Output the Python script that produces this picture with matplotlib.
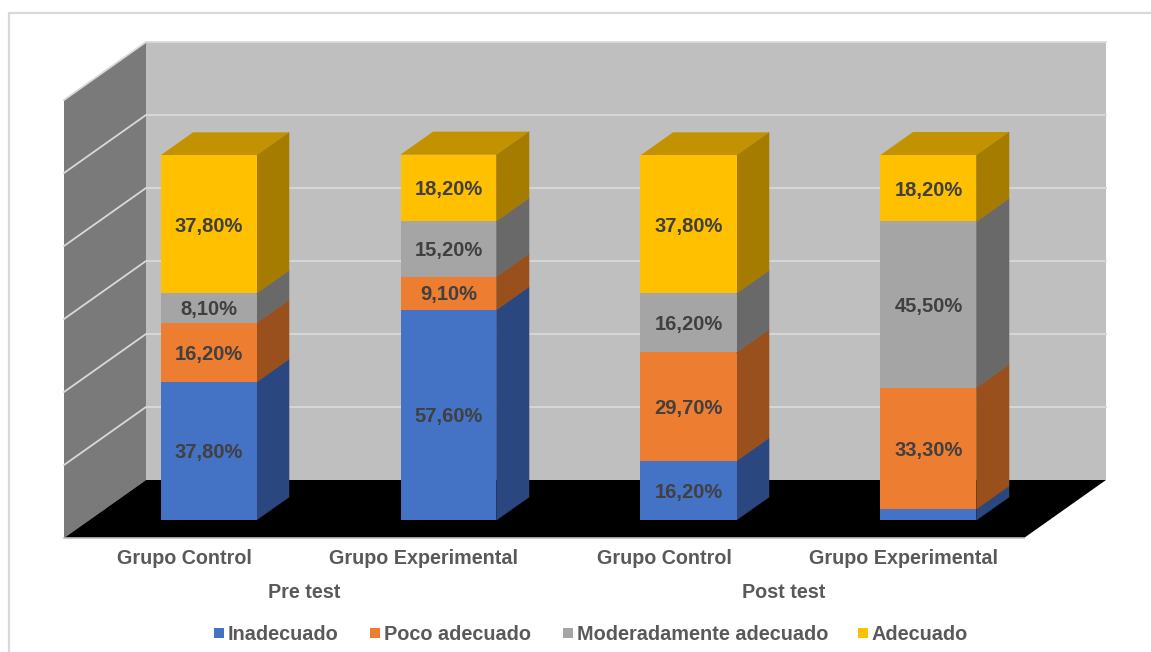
import matplotlib
matplotlib.use("Agg")
import matplotlib.pyplot as plt
from matplotlib.patches import Polygon, Rectangle

groups = ["Grupo Control", "Grupo Experimental", "Grupo Control", "Grupo Experimental"]
phases = ["Pre test", "Post test"]
series = ["Inadecuado", "Poco adecuado", "Moderadamente adecuado", "Adecuado"]
inadecuado = [37.8, 57.6, 16.2, 3.0]
poco = [16.2, 9.1, 29.7, 33.3]
moderado = [8.1, 15.2, 16.2, 45.5]
adecuado = [37.8, 18.2, 37.8, 18.2]
labels_in = ["37,80%", "57,60%", "16,20%", ""]
labels_po = ["16,20%", "9,10%", "29,70%", "33,30%"]
labels_mo = ["8,10%", "15,20%", "16,20%", "45,50%"]
labels_ad = ["37,80%", "18,20%", "37,80%", "18,20%"]
y_grid = [0, 20, 40, 60, 80, 100, 120]

FONT = ["Liberation Sans", "DejaVu Sans"]
TXT = "#595959"
front = ["#4472c4", "#ed7d31", "#a5a5a5", "#ffc000"]
side = ["#2a4780", "#99501c", "#696969", "#a67c00"]
top_col = "#c29200"

# 1 category = 240 px, 1 % = 3.65 px
PX_X = 240.0
PX_Y = 3.65
X0 = 88.5
Y0 = 520.0

fig = plt.figure(figsize=(11.51, 6.52), dpi=100)
ax = fig.add_axes([0, 0, 1, 1])
ax.set_xlim(-X0 / PX_X, (1151 - X0) / PX_X)
ax.set_ylim((Y0 - 652) / PX_Y, Y0 / PX_Y)
ax.axis("off")


def px(x):
    return (x - X0) / PX_X


def py(y):
    return (Y0 - y) / PX_Y


# depth offsets in data units
bar_dx, bar_dy = 32.5 / PX_X, 23 / PX_Y
front_dx, front_dy = -24.5 / PX_X, -18 / PX_Y
wall_dx, wall_dy = 57.5 / PX_X, 40 / PX_Y
x_end = 4.0
y_top = max(y_grid)


def poly(pts, color, z, edge="none", lw=0.0):
    ax.add_patch(Polygon(pts, closed=True, facecolor=color, edgecolor=edge, linewidth=lw, zorder=z))


# frame: only left and top show
ax.plot([px(9), px(9), px(1151)], [py(652), py(13), py(13)], color="#d9d9d9", lw=1.6, zorder=0,
        solid_joinstyle="miter")

# back wall, left wall, floor
bx, by = wall_dx, wall_dy
fx, fy = front_dx, front_dy
poly([(bx, by), (x_end + bx, by), (x_end + bx, y_top + by), (bx, y_top + by)], "#bfbfbf", 1)
poly([(fx, fy), (bx, by), (bx, y_top + by), (fx, y_top + fy)], "#7a7a7a", 1)
poly([(fx, fy), (x_end + fx, fy), (x_end + bx, by), (bx, by)], "black", 2)
ax.plot([fx, x_end + fx], [fy, fy], color="#bfbfbf", lw=1.2, zorder=2.1)

for g in y_grid[1:]:
    ax.plot([fx, bx, x_end + bx], [g + fy, g + by, g + by], color="#d9d9d9", lw=1.3, zorder=1.5,
            solid_joinstyle="miter")

# stacked boxes
all_vals = [inadecuado, poco, moderado, adecuado]
all_labels = [labels_in, labels_po, labels_mo, labels_ad]
width = 0.4
for i in range(len(groups)):
    xc = i + 0.5
    l, r = xc - width / 2, xc + width / 2
    base = 0.0
    for s in range(len(series)):
        v = all_vals[s][i]
        t = base + v
        z = 3 + s * 0.1
        poly([(r, base), (r + bar_dx, base + bar_dy), (r + bar_dx, t + bar_dy), (r, t)], side[s], z,
             edge=side[s], lw=0.4)
        poly([(l, base), (r, base), (r, t), (l, t)], front[s], z + 0.01)
        if s == len(series) - 1:
            poly([(l, t), (r, t), (r + bar_dx, t + bar_dy), (l + bar_dx, t + bar_dy)], top_col, z)
        if all_labels[s][i]:
            ax.text(xc, base + v / 2 - 0.5, all_labels[s][i], ha="center", va="center", color="#404040",
                    fontsize=14.5, fontweight="bold", family=FONT, zorder=5)
        base = t

# category labels sit on the front edge of the floor
for i, g in enumerate(groups):
    ax.text(i + 0.5 + front_dx, py(558.5), g, ha="center", va="center", color=TXT,
            fontsize=14.2, fontweight="bold", family=FONT)
for j, p in enumerate(phases):
    ax.text(2 * j + 1 + front_dx, py(592), p, ha="center", va="center", color=TXT,
            fontsize=14.2, fontweight="bold", family=FONT)

# legend
leg_x = [214, 370, 563, 858]
for s, name in enumerate(series):
    ax.add_patch(Rectangle((px(leg_x[s]), py(637.5)), 10 / PX_X, 10 / PX_Y,
                           facecolor=front[s], edgecolor="none"))
    ax.text(px(leg_x[s] + 14), py(634), name, ha="left", va="center", color=TXT,
            fontsize=14.3, fontweight="bold", family=FONT)

fig.savefig("out.png", dpi=100)
